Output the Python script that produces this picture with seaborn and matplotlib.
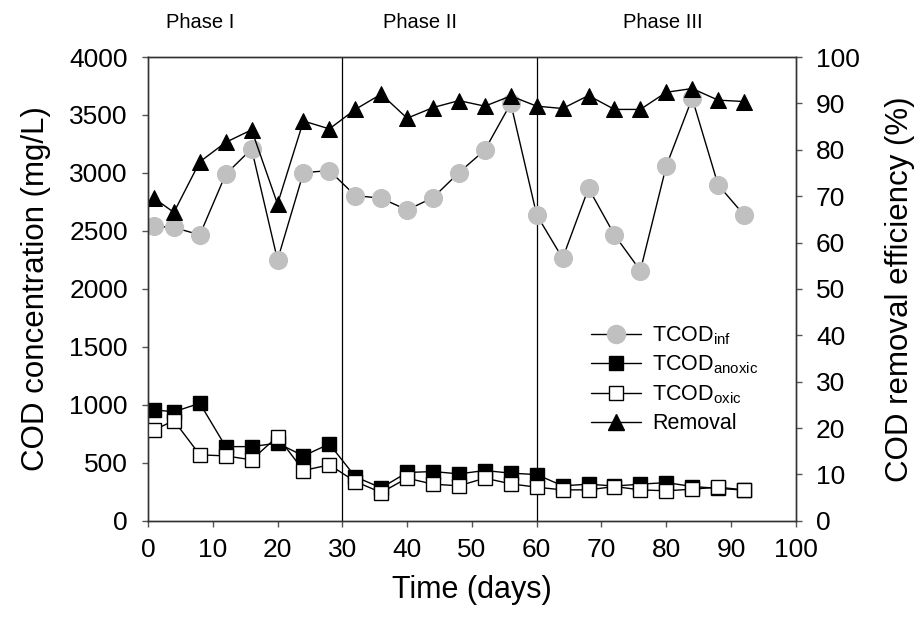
import matplotlib
matplotlib.use("Agg")
import matplotlib.pyplot as plt
import seaborn as sns
from matplotlib.lines import Line2D

# sampling days
days = [1, 4, 8, 12, 16, 20, 24, 28, 32, 36, 40, 44, 48, 52, 56,
        60, 64, 68, 72, 76, 80, 84, 88, 92]

# COD (mg/L)
tcod_inf = [2540, 2530, 2466, 2989, 3207, 2250, 3003, 3020, 2805, 2782, 2681, 2787,
            3003, 3198, 3600, 2638, 2264, 2868, 2466, 2158, 3060, 3644, 2897, 2638]
tcod_anoxic = [957, 940, 1014, 640, 640, 670, 560, 663, 380, 284, 417, 425,
               405, 434, 411, 399, 302, 316, 300, 316, 330, 296, 280, 265]
tcod_oxic = [784, 865, 569, 560, 526, 727, 434, 483, 339, 244, 368, 316,
             302, 368, 319, 290, 267, 267, 296, 267, 259, 273, 290, 267]

# removal efficiency (%)
removal = [69.5, 66.5, 77.4, 81.6, 84.3, 68.3, 86.2, 84.5, 88.7, 92.0, 86.8, 89.1,
           90.6, 89.4, 91.6, 89.4, 88.9, 91.7, 88.7, 88.7, 92.4, 93.2, 90.7, 90.4]

phase_bounds = [30, 60]
phase_names = ["Phase I", "Phase II", "Phase III"]
phase_pos = [8, 42, 79.5]

sns.set_style("ticks")
plt.rcParams["font.family"] = ["Liberation Sans", "DejaVu Sans"]
plt.rcParams["text.color"] = "black"
plt.rcParams["axes.labelcolor"] = "black"

fig = plt.figure(figsize=(9.19, 6.23), dpi=100)
ax = fig.add_axes([0.161, 0.164, 0.705, 0.7445])
ax2 = ax.twinx()

line_kw = dict(color="black", linewidth=1, legend=False)

sns.lineplot(x=days, y=tcod_inf, ax=ax, marker="o", markersize=13,
             markerfacecolor="#c0c0c0", markeredgecolor="#c0c0c0", zorder=2, **line_kw)
sns.lineplot(x=days, y=tcod_anoxic, ax=ax, marker="s", markersize=10,
             markerfacecolor="black", markeredgecolor="black", markeredgewidth=1,
             zorder=3, **line_kw)
sns.lineplot(x=days, y=tcod_oxic, ax=ax, marker="s", markersize=10,
             markerfacecolor="white", markeredgecolor="black", markeredgewidth=1,
             zorder=4, **line_kw)
sns.lineplot(x=days, y=removal, ax=ax2, marker="^", markersize=12,
             markerfacecolor="black", markeredgecolor="black", **line_kw)

for b in phase_bounds:
    ax.axvline(b, color="black", linewidth=0.9, zorder=1)

ax.set_xlim(0, 100)
ax.set_ylim(0, 4000)
ax2.set_ylim(0, 100)
ax.set_xticks(range(0, 101, 10))
ax.set_yticks(range(0, 4001, 500))
ax2.set_yticks(range(0, 101, 10))

ax.set_xlabel("Time (days)", fontsize=22, labelpad=9)
ax.set_ylabel("COD concentration (mg/L)", fontsize=22.5, labelpad=13)
ax2.set_ylabel("COD removal efficiency (%)", fontsize=22.5, labelpad=18)

for a in (ax, ax2):
    a.tick_params(labelsize=19, direction="out", length=4.5, width=1,
                  color="#555555", labelcolor="black", pad=10)
    for s in a.spines.values():
        s.set_color("#333333")
        s.set_linewidth(1)
ax.tick_params(axis="x", pad=8)

for name, xp in zip(phase_names, phase_pos):
    ax.text(xp, 1.075, name, transform=ax.get_xaxis_transform(),
            ha="center", va="center", fontsize=14.5)

handles = [
    Line2D([], [], color="black", lw=1, marker="o", markersize=13,
           markerfacecolor="#c0c0c0", markeredgecolor="#c0c0c0"),
    Line2D([], [], color="black", lw=1, marker="s", markersize=10,
           markerfacecolor="black", markeredgecolor="black"),
    Line2D([], [], color="black", lw=1, marker="s", markersize=10,
           markerfacecolor="white", markeredgecolor="black"),
    Line2D([], [], color="black", lw=1, marker="^", markersize=12,
           markerfacecolor="black", markeredgecolor="black"),
]
labels = ["TCOD$_{\\mathregular{inf}}$", "TCOD$_{\\mathregular{anoxic}}$",
          "TCOD$_{\\mathregular{oxic}}$", "Removal"]
ax2.legend(handles, labels, loc="upper left", bbox_to_anchor=(0.684, 0.424),
           frameon=False, fontsize=15.5, handlelength=2.3, labelspacing=0.33,
           handletextpad=0.55, borderpad=0, borderaxespad=0)

fig.savefig("out.png", dpi=100)
